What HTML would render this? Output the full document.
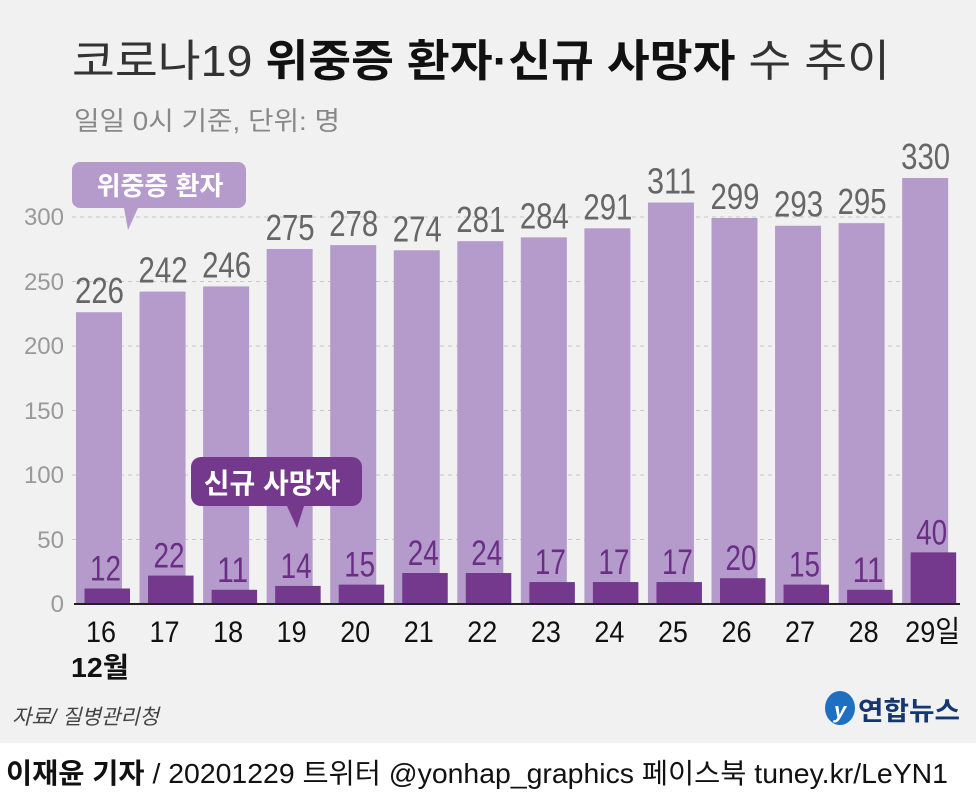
<!DOCTYPE html>
<html><head><meta charset="utf-8"><style>
body{margin:0;width:976px;height:794px;overflow:hidden;background:#f1f1f1;font-family:"Liberation Sans","Noto Sans CJK KR",sans-serif;}
</style></head><body>
<svg width="976" height="794" xmlns="http://www.w3.org/2000/svg" style="position:absolute;left:0;top:0;font-family:'Liberation Sans','Noto Sans CJK KR',sans-serif">
<rect width="976" height="743" fill="#f1f1f1"/>
<rect y="743" width="976" height="51" fill="#ffffff"/>
<text x="72" y="76" font-size="44" fill="#333" textLength="818" lengthAdjust="spacingAndGlyphs">코로나19 <tspan font-weight="bold" fill="#111">위중증 환자·신규 사망자</tspan> 수 추이</text>
<text x="74" y="130" font-size="26" fill="#888" textLength="266" lengthAdjust="spacingAndGlyphs">일일 0시 기준, 단위: 명</text>
<g font-size="24" fill="#999" text-anchor="end">
<text x="64" y="612">0</text><text x="64" y="548">50</text><text x="64" y="483">100</text><text x="64" y="419">150</text><text x="64" y="354">200</text><text x="64" y="290">250</text><text x="64" y="225">300</text>
</g>
<g stroke="#c8c8c8" stroke-dasharray="4,4" stroke-width="1">
<line x1="72" x2="952" y1="539.5" y2="539.5"/><line x1="72" x2="952" y1="475" y2="475"/><line x1="72" x2="952" y1="410.5" y2="410.5"/><line x1="72" x2="952" y1="346" y2="346"/><line x1="72" x2="952" y1="281.5" y2="281.5"/><line x1="72" x2="952" y1="217" y2="217"/>
</g>
<g id="bars"></g>
<line x1="74" x2="960" y1="604" y2="604" stroke="#222" stroke-width="2"/>
<path d="M80 162 h158 a8 8 0 0 1 8 8 v30 a8 8 0 0 1 -8 8 h-100 l-10 22 l-4 -22 h-44 a8 8 0 0 1 -8 -8 v-30 a8 8 0 0 1 8 -8z" fill="#b59bcb"/>
<text x="160" y="195" font-size="26" font-weight="bold" fill="#fff" text-anchor="middle">위중증 환자</text>
<path d="M201 457 h151 a10 10 0 0 1 10 10 v29 a10 10 0 0 1 -10 10 h-48 l-7 22 l-10 -22 h-86 a10 10 0 0 1 -10 -10 v-29 a10 10 0 0 1 10 -10z" fill="#74398d"/>
<text x="272" y="493" font-size="28" font-weight="bold" fill="#fff" text-anchor="middle">신규 사망자</text>
<text x="71" y="677" font-size="28" font-weight="bold" fill="#111" textLength="58" lengthAdjust="spacingAndGlyphs">12월</text>
<text x="12" y="724" font-size="21" font-style="italic" fill="#444">자료/ 질병관리청</text>
<ellipse cx="840" cy="708" rx="15" ry="17" fill="#1f6fc0"/>
<text x="834" y="718" font-size="22" font-style="italic" font-weight="bold" fill="#fff">y</text>
<text x="858" y="720" font-size="26" font-weight="bold" fill="#15366e" textLength="102" lengthAdjust="spacingAndGlyphs">연합뉴스</text>
<text x="6" y="783" font-size="28" fill="#111" textLength="942" lengthAdjust="spacingAndGlyphs"><tspan font-weight="bold">이재윤 기자</tspan> / 20201229   트위터 @yonhap_graphics  페이스북 tuney.kr/LeYN1</text>
</svg>
<script>
var h=[226,242,246,275,278,274,281,284,291,311,299,293,295,330];
var d=[12,22,11,14,15,24,24,17,17,17,20,15,11,40];
var s=1.291,b=604,g=document.getElementById('bars'),out='';
for(var i=0;i<14;i++){var x=76+i*63.55;
out+='<rect x="'+x+'" y="'+(b-h[i]*s)+'" width="46" height="'+(h[i]*s)+'" fill="#b59bcb"/>';
out+='<rect x="'+(x+8.5)+'" y="'+(b-d[i]*s)+'" width="45.5" height="'+(d[i]*s)+'" fill="#74398d"/>';
out+='<text x="'+(x-1)+'" y="'+(b-h[i]*s-9)+'" font-size="36" fill="#666" textLength="49" lengthAdjust="spacingAndGlyphs">'+h[i]+'</text>';
out+='<text x="'+(x+14)+'" y="'+(b-d[i]*s-8)+'" font-size="35" fill="#6a2f85" textLength="31" lengthAdjust="spacingAndGlyphs">'+d[i]+'</text>';
if(i<13) out+='<text x="'+(x+10)+'" y="642" font-size="30" fill="#111" textLength="30" lengthAdjust="spacingAndGlyphs">'+(16+i)+'</text>';
else out+='<text x="'+(x+3)+'" y="642" font-size="30" fill="#111" textLength="55" lengthAdjust="spacingAndGlyphs">29일</text>';}
g.innerHTML=out;
</script>
</body></html>
